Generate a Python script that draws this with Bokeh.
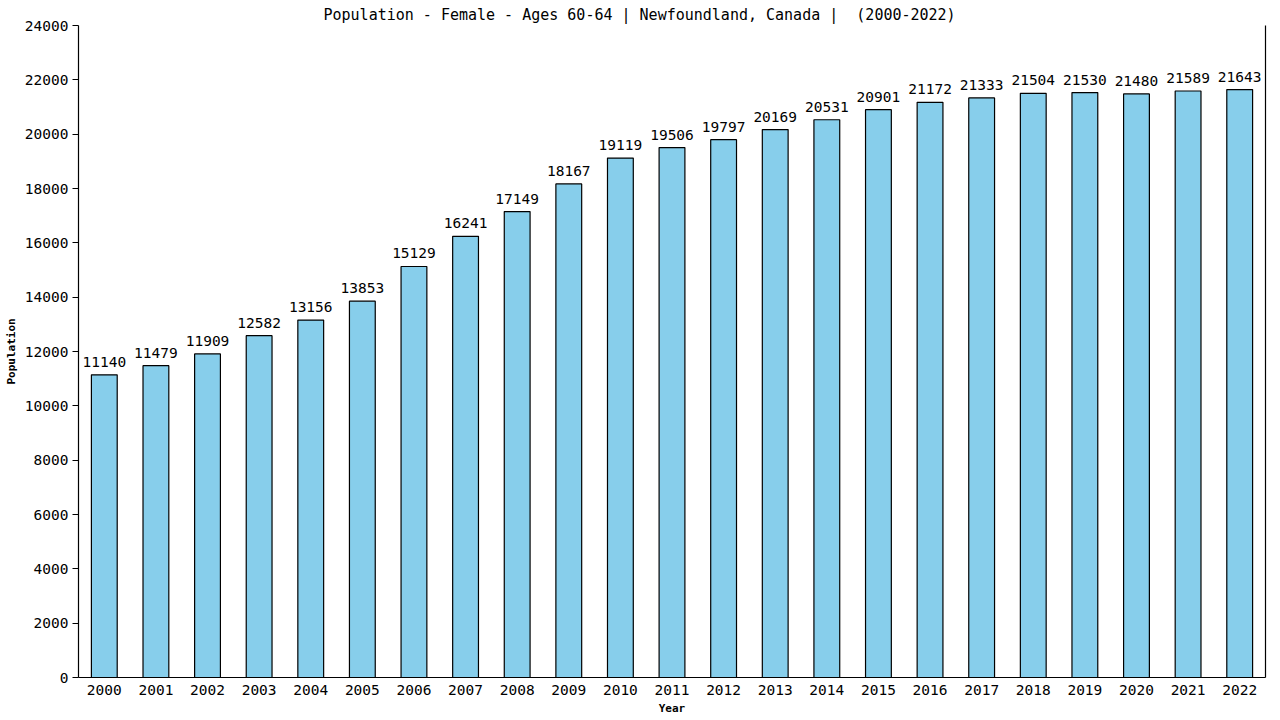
from bokeh.plotting import figure
from bokeh.models import ColumnDataSource, LinearAxis, FixedTicker, Range1d, LabelSet
from bokeh.core.properties import value
from bokeh.embed import file_html
from bokeh.resources import INLINE

years = ["2000", "2001", "2002", "2003", "2004", "2005", "2006", "2007", "2008", "2009",
         "2010", "2011", "2012", "2013", "2014", "2015", "2016", "2017", "2018", "2019",
         "2020", "2021", "2022"]
population = [11140, 11479, 11909, 12582, 13156, 13853, 15129, 16241, 17149, 18167,
              19119, 19506, 19797, 20169, 20531, 20901, 21172, 21333, 21504, 21530,
              21480, 21589, 21643]
y_ticks = list(range(0, 24001, 2000))
title_text = "Population - Female - Ages 60-64 | Newfoundland, Canada |\u00a0 (2000-2022)"

FONT = "DejaVu Sans Mono"

source = ColumnDataSource(data=dict(
    year=years,
    pop=population,
    label=[str(v) for v in population],
))

p = figure(
    x_range=years,
    y_range=Range1d(0, 24000),
    width=1280, height=720,
    output_backend="svg",
    toolbar_location=None,
    title=title_text,
    min_border_left=78, min_border_right=15,
    min_border_top=25, min_border_bottom=43,
)
p.x_range.range_padding = 0.0

p.title.align = "left"
p.title.offset = 245
p.title.text_font = FONT
p.title.text_font_size = "15px"
p.title.text_font_style = "normal"
p.title.text_color = "black"
p.title.standoff = 4

p.vbar(x="year", top="pop", width=0.5, source=source,
       fill_color="#87CEEB", line_color="black", line_width=1.2)

labels = LabelSet(x="year", y="pop", text="label", source=source,
                  text_align="center", text_baseline="bottom", y_offset=8,
                  text_font=value(FONT), text_font_size=value("14.5px"),
                  text_color="black")
p.add_layout(labels)

p.xgrid.grid_line_color = None
p.ygrid.grid_line_color = None
p.outline_line_color = None
p.background_fill_color = "white"
p.border_fill_color = "white"

p.yaxis.ticker = FixedTicker(ticks=y_ticks)
p.yaxis.axis_label = "Population"
p.xaxis.axis_label = "Year"
for ax in (p.xaxis, p.yaxis):
    ax.axis_label_text_font = FONT
    ax.axis_label_text_font_size = "11px"
    ax.axis_label_text_font_style = "bold"
    ax.axis_label_text_color = "black"
    ax.major_label_text_font = FONT
    ax.major_label_text_font_size = "14.5px"
    ax.major_label_text_color = "black"
    ax.axis_line_color = "black"
    ax.axis_line_width = 1.2
    ax.minor_tick_line_color = None
p.yaxis.major_tick_out = 6
p.yaxis.major_tick_in = 0
p.yaxis.major_tick_line_color = "black"
p.yaxis.major_label_standoff = 4
p.yaxis.axis_label_standoff = 4
p.xaxis.major_tick_line_color = None
p.xaxis.major_tick_out = 0
p.xaxis.major_tick_in = 0
p.xaxis.major_label_standoff = 7
p.xaxis.axis_label_standoff = 4

right_axis = LinearAxis(ticker=FixedTicker(ticks=[]), axis_line_color="black",
                        axis_line_width=1.2, major_tick_line_color=None,
                        minor_tick_line_color=None, major_tick_out=0,
                        major_tick_in=0, major_label_standoff=0)
p.add_layout(right_axis, "right")

open("out.html", "w").write(file_html(p, INLINE))
